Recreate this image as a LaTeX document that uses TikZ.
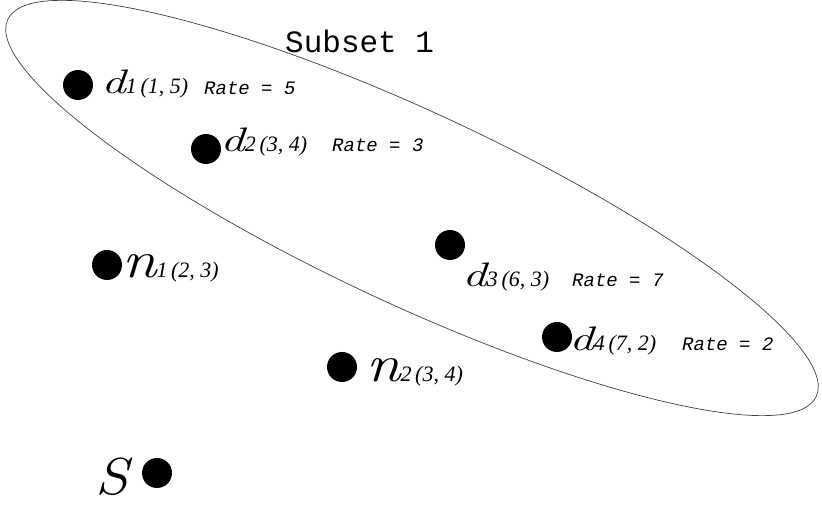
\documentclass[tikz,border=0pt]{standalone}
\usepackage{fontspec}
\usepackage{graphicx}
\newfontfamily\serfam{Liberation Serif}
\newfontfamily\monofam{Liberation Mono}
% fonts for the labels
\newcommand{\letterfont}[1]{\fontsize{#1}{#1}\selectfont\itshape}
\newcommand{\crdfont}{\serfam\fontsize{22}{24}\selectfont\itshape}
\newcommand{\ratefont}{\monofam\fontsize{19}{22}\selectfont\itshape}
\newcommand{\wide}[2]{\scalebox{#1}[1]{#2}}
\tikzset{
  dot/.style={circle, fill=black, inner sep=0pt, minimum size=30pt},
  lbl/.style={anchor=base west, inner sep=0pt},
  rate/.style={lbl, font=\ratefont},
}
\begin{document}
\begin{tikzpicture}[x=1pt, y=1pt]
        \useasboundingbox (0,0) rectangle (822,511);

        % Subset boundary
        \draw[black!75, line width=0.7pt, rotate around={-25:(412,303)}] (412,303) ellipse [x radius=446, y radius=96];
        \node[lbl, font=\monofam\fontsize{31}{34}\selectfont] (sub) at (285,458) {Subset 1};

        % Points
        \node[dot] (d1) at (78,426) {};
        \node[dot] (d2) at (206,362) {};
        \node[dot] (n1) at (107,246) {};
        \node[dot] (d3) at (450,266) {};
        \node[dot] (d4) at (557,174) {};
        \node[dot] (n2) at (342,144) {};
        \node[dot] (s) at (157,38) {};

        % Labels
        \node[lbl] (d1lbl) at (101,417) {{\letterfont{34}\wide{1.45}{d}}{\crdfont 1\,(1,~5)}};
        \node[rate] (d1rate) at (204,416) {Rate = 5};
        \node[lbl] (d2lbl) at (220,359) {{\letterfont{34}\wide{1.45}{d}}{\crdfont 2\,(3,~4)}};
        \node[rate] (d2rate) at (332,359) {Rate = 3};
        \node[lbl] (n1lbl) at (122,233) {{\letterfont{52}\wide{1.2}{n}}{\crdfont 1\,(2,~3)}};
        \node[lbl] (d3lbl) at (462,224) {{\letterfont{34}\wide{1.45}{d}}{\crdfont 3\,(6,~3)}};
        \node[rate] (d3rate) at (572,224) {Rate = 7};
        \node[lbl] (d4lbl) at (569,160) {{\letterfont{34}\wide{1.45}{d}}{\crdfont 4\,(7,~2)}};
        \node[rate] (d4rate) at (682,160) {Rate = 2};
        \node[lbl] (n2lbl) at (366,129) {{\letterfont{52}\wide{1.2}{n}}{\crdfont 2\,(3,~4)}};
        \node[lbl] (slbl) at (95,16) {{\letterfont{52}\wide{1.15}{S}}};
\end{tikzpicture}
\end{document}
